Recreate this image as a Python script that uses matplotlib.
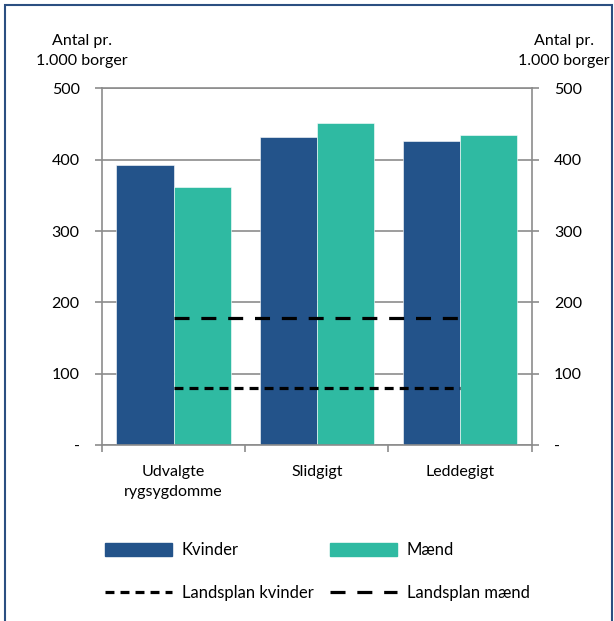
import numpy as np
import matplotlib.pyplot as plt
from matplotlib.patches import Rectangle, Patch
from matplotlib.lines import Line2D

plt.rcParams['font.family'] = ['Lato', 'DejaVu Sans']

categories = ["Udvalgte\nrygsygdomme", "Slidgigt", "Leddegigt"]
kvinder = [393, 432, 426]
maend = [362, 451, 434]
landsplan_kvinder = 80
landsplan_maend = 178
yticks = [0, 100, 200, 300, 400, 500]
ytick_labels = ["-", "100", "200", "300", "400", "500"]

blue = "#23538A"
teal = "#2FBAA2"
grey = "#8C8C8C"
dot = (2.8, 1.9)
dash = (4.7, 3.7)

fig = plt.figure(figsize=(6.14, 6.21), dpi=100)
ax = fig.add_axes([0.166, 0.283, 0.700, 0.575])

x = np.arange(len(categories))
w = 0.4
ax.bar(x - w/2, kvinder, w, color=blue, edgecolor="white", linewidth=0.4, zorder=2)
ax.bar(x + w/2, maend, w, color=teal, edgecolor="white", linewidth=0.4, zorder=2)

ax.plot([x[0], x[-1]], [landsplan_maend] * 2, color="black", lw=2.3,
        dashes=dash, zorder=3)
ax.plot([x[0], x[-1]], [landsplan_kvinder] * 2, color="black", lw=2.3,
        dashes=dot, zorder=3)

ax.set_xlim(-0.5, 2.5)
ax.set_ylim(0, 500)
ax.set_yticks(yticks)
ax.set_yticklabels(ytick_labels)
ax.yaxis.grid(True, color=grey, lw=1.2, zorder=0)
ax.set_axisbelow(True)

ax.set_xticks([-0.5, 0.5, 1.5, 2.5])
ax.set_xticklabels([])
ax.set_xticks(x, minor=True)
ax.set_xticklabels(categories, minor=True, fontsize=11.5, linespacing=1.6)
ax.tick_params(axis="x", which="major", length=5, width=1.2, color=grey)
ax.tick_params(axis="x", which="minor", length=0, pad=14)
ax.tick_params(axis="y", left=True, right=True, labelleft=True, labelright=True,
               length=5, width=1.2, color=grey, pad=11, labelsize=11.5)
for s in ax.spines.values():
    s.set_color(grey)
    s.set_linewidth(1.2)

fig.text(0.133, 0.918, "Antal pr.\n1.000 borger", ha="center", va="center",
         fontsize=11.5, linespacing=1.6)
fig.text(0.918, 0.918, "Antal pr.\n1.000 borger", ha="center", va="center",
         fontsize=11.5, linespacing=1.6)

handles = [Patch(color=blue), Line2D([], [], color="black", lw=2.3, dashes=dot),
           Patch(color=teal), Line2D([], [], color="black", lw=2.3, dashes=dash)]
labels = ["Kvinder", "Landsplan kvinder", "Mænd", "Landsplan mænd"]
fig.legend(handles, labels, ncol=2, loc="upper left", bbox_to_anchor=(0.16, 0.138),
           frameon=False, fontsize=12, handlelength=4.0, handleheight=0.8,
           handletextpad=0.6, columnspacing=1.0, labelspacing=1.6,
           borderaxespad=0)

fig.patches.append(Rectangle((0.008, -0.1), 0.988, 1.092, transform=fig.transFigure,
                             fill=False, edgecolor="#2B4F81", lw=1.5))

fig.savefig("out.png", dpi=100)
